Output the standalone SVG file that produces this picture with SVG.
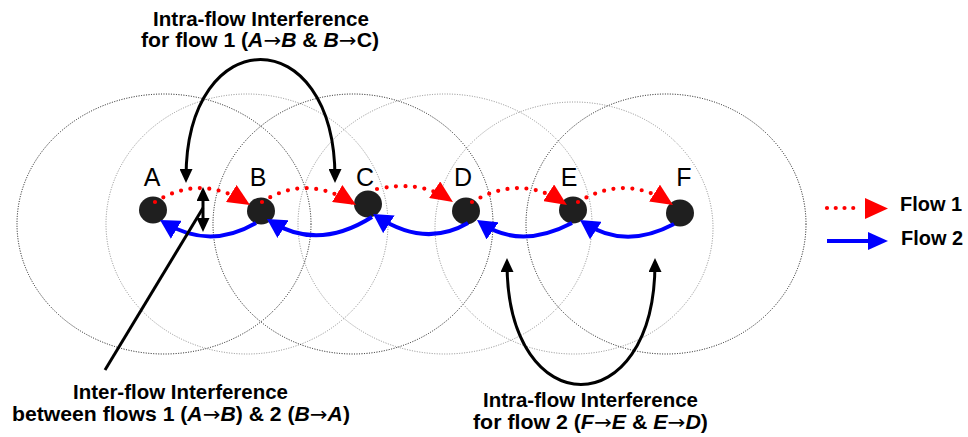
<svg xmlns="http://www.w3.org/2000/svg" width="968" height="437" viewBox="0 0 968 437">
<style>
.rng{fill:none;stroke-width:1;stroke-dasharray:1 1.5}
.rb{stroke:#111}
.rg{stroke:#8c8c8c}
.node{fill:#1f1f1f}
.lbl{font-family:"Liberation Sans",Arial,sans-serif;font-size:25px;fill:#000;text-anchor:middle}
.t{font-family:"Liberation Sans",Arial,sans-serif;font-size:19.5px;font-weight:bold;fill:#000}
.ar{font-family:"DejaVu Sans",sans-serif;font-weight:normal}
.red{fill:none;stroke:#ff0000;stroke-width:4.2;stroke-linecap:round;stroke-dasharray:0 9.5;marker-end:url(#mRed)}
.blue{fill:none;stroke:#0000ff;stroke-width:4;marker-end:url(#mBlue)}
.blk{fill:none;stroke:#000;stroke-width:3}
.dbl{marker-start:url(#mBlk);marker-end:url(#mBlk)}
</style>
<defs>
<marker id="mRed" markerUnits="userSpaceOnUse" markerWidth="22" markerHeight="20" viewBox="0 0 22 20" refX="17" refY="10" orient="auto"><path d="M0,0 L22,10 L0,20 z" fill="#ff0000"/></marker>
<marker id="mBlue" markerUnits="userSpaceOnUse" markerWidth="19" markerHeight="21" viewBox="0 0 19 21" refX="14" refY="10.5" orient="auto"><path d="M0,0 L19,10.5 L0,21 z" fill="#0000ff"/></marker>
<marker id="mBlk" markerUnits="userSpaceOnUse" markerWidth="14" markerHeight="13" viewBox="0 0 14 13" refX="9" refY="6.5" orient="auto-start-reverse"><path d="M0,0 L14,6.5 L0,13 z" fill="#000"/></marker>
</defs>

<g id="ranges">
<ellipse class="rng rb" cx="164" cy="224" rx="147" ry="130"/>
<ellipse class="rng rg" cx="247" cy="224" rx="141" ry="130"/>
<ellipse class="rng rb" cx="353" cy="224" rx="140" ry="130"/>
<ellipse class="rng rg" cx="445" cy="224" rx="147" ry="130"/>
<ellipse class="rng rg" cx="574" cy="228" rx="139" ry="126"/>
<ellipse class="rng rb" cx="666" cy="224" rx="140" ry="130"/>
</g>

<g id="node-A"><ellipse class="node" cx="153" cy="210" rx="14" ry="13.5"/><text class="lbl" x="152" y="186">A</text></g>
<g id="node-B"><ellipse class="node" cx="261" cy="211" rx="14" ry="13.5"/><text class="lbl" x="258" y="186">B</text></g>
<g id="node-C"><ellipse class="node" cx="368" cy="204" rx="14" ry="13.5"/><text class="lbl" x="365" y="186">C</text></g>
<g id="node-D"><ellipse class="node" cx="466" cy="211" rx="14" ry="13.5"/><text class="lbl" x="463" y="186">D</text></g>
<g id="node-E"><ellipse class="node" cx="573" cy="210" rx="14" ry="13.5"/><text class="lbl" x="569" y="186">E</text></g>
<g id="node-F"><ellipse class="node" cx="680" cy="213" rx="14" ry="13.5"/><text class="lbl" x="684" y="186">F</text></g>

<g id="connectors">
<path class="red" d="M155,202 Q200,174 245.7,202.4"/>
<path class="red" d="M262,202 Q305,174 351.7,202.4"/>
<path class="red" d="M377,189 Q420,180 448.8,199.2"/>
<path class="red" d="M472,202 Q520,174 562.8,202.2"/>
<path class="red" d="M578,202 Q625,174 668.8,202.3"/>
<path class="blue" d="M674,224 Q625,250 584.2,222.8"/>
<path class="blue" d="M572,223 Q520,250 481.1,222.9"/>
<path class="blue" d="M468,223 Q425,248 377.2,216.7"/>
<path class="blue" d="M372,217 Q318,251 271.2,221.7"/>
<path class="blue" d="M256,223 Q210,250 164.3,222.6"/>
<path class="blk dbl" d="M186,178 C186,20 335,20 335,178"/>
<path class="blk dbl" d="M507,263 C507,425 655,425 655,263"/>
<path class="blk dbl" d="M203,192 L203,227"/>
<path class="blk" d="M105,370 L203,208"/>
</g>

<g id="label-intra1">
<text class="t" x="153" y="26" textLength="216" lengthAdjust="spacingAndGlyphs">Intra-flow Interference</text>
<text class="t" x="141" y="47" textLength="238" lengthAdjust="spacingAndGlyphs">for flow 1 (<tspan font-style="italic">A</tspan><tspan class="ar">→</tspan><tspan font-style="italic">B</tspan> &amp; <tspan font-style="italic">B</tspan><tspan class="ar">→</tspan>C)</text>
</g>
<g id="label-inter">
<text class="t" x="73" y="399" textLength="215" lengthAdjust="spacingAndGlyphs">Inter-flow Interference</text>
<text class="t" x="12" y="421" textLength="338" lengthAdjust="spacingAndGlyphs">between flows 1 (<tspan font-style="italic">A</tspan><tspan class="ar">→</tspan><tspan font-style="italic">B</tspan>) &amp; 2 (<tspan font-style="italic">B</tspan><tspan class="ar">→</tspan><tspan font-style="italic">A</tspan>)</text>
</g>
<g id="label-intra2">
<text class="t" x="483" y="407" textLength="215" lengthAdjust="spacingAndGlyphs">Intra-flow Interference</text>
<text class="t" x="473" y="429" textLength="235" lengthAdjust="spacingAndGlyphs">for flow 2 (<tspan font-style="italic">F</tspan><tspan class="ar">→</tspan><tspan font-style="italic">E</tspan> &amp; <tspan font-style="italic">E</tspan><tspan class="ar">→</tspan><tspan font-style="italic">D</tspan>)</text>
</g>

<g id="legend">
<path d="M827,208 L862,208" fill="none" stroke="#ff0000" stroke-width="4.2" stroke-linecap="round" stroke-dasharray="0 8.75"/>
<polygon points="865,198 888,208.5 865,219" fill="#ff0000"/>
<path d="M827,241 L870,241" fill="none" stroke="#0000ff" stroke-width="4"/>
<polygon points="868,232 888,241 868,250" fill="#0000ff"/>
<text class="t" x="900" y="211" textLength="62" lengthAdjust="spacingAndGlyphs">Flow 1</text>
<text class="t" x="901" y="245" textLength="62" lengthAdjust="spacingAndGlyphs">Flow 2</text>
</g>
</svg>
